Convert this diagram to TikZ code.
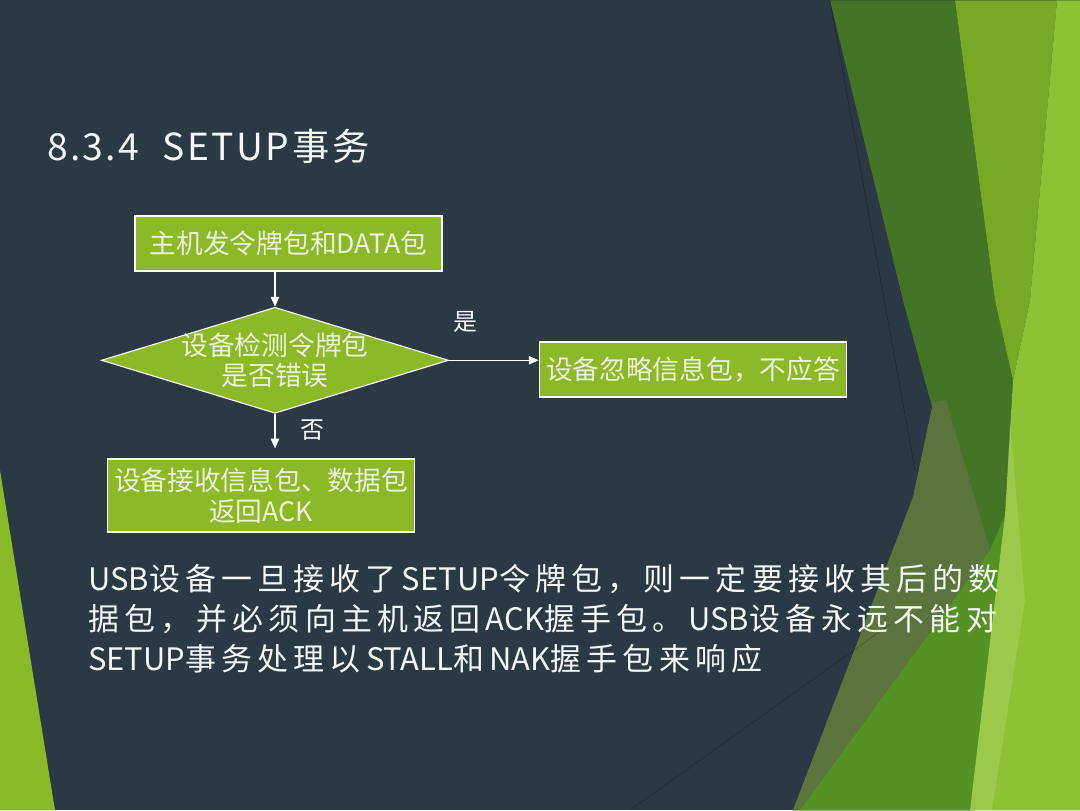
\documentclass[tikz,border=0pt]{standalone}
\usepackage{fontspec}
\setmainfont{Noto Sans CJK SC}
\newfontfamily\titlesp[LetterSpace=6]{Noto Sans CJK SC}
\usetikzlibrary{arrows.meta,shapes.geometric}
\definecolor{slate}{RGB}{43,57,69}
\definecolor{boxgreen}{RGB}{141,184,39}
\definecolor{boxtext}{RGB}{236,242,222}
\definecolor{bodytext}{RGB}{244,247,244}
\definecolor{darkband}{RGB}{70,116,38}
\definecolor{midband}{RGB}{120,168,38}
\definecolor{lightband}{RGB}{143,193,52}
\definecolor{oliveband}{RGB}{90,116,60}
\definecolor{lowband}{RGB}{84,146,38}
\definecolor{leftband}{RGB}{138,186,40}
\newcommand\zhsp[1]{\zhsploop#1\relax}
\def\zhsploop#1{\ifx#1\relax\else#1\hspace{3.7pt}\expandafter\zhsploop\fi}

\begin{document}
\begin{tikzpicture}[x=0.025cm,y=-0.025cm,
  box/.style={draw=white,line width=1.2pt,fill=boxgreen,text=boxtext,inner sep=0pt,align=center,
    font=\fontsize{19}{21.5}\selectfont,minimum width=7.675cm},
  dia/.style={diamond,draw=white,line width=0.8pt,fill=boxgreen,inner sep=0pt,
    minimum width=8.675cm,minimum height=2.65cm},
  arr/.style={draw=white,line width=0.9pt,-{Triangle[length=7pt,width=6pt]}},
  lbl/.style={text=white,inner sep=0pt,font=\fontsize{17}{19}\selectfont},
  body/.style={anchor=base west,text=bodytext,inner sep=0pt,font=\fontsize{22}{26}\selectfont},
]
  \fill[slate] (0,0) rectangle (1080,810);
  \fill[leftband] (0,470) -- (55,810) -- (0,810) -- cycle;
  \fill[darkband] (830,0) -- (955,0) -- (995,300) -- (1013,380) -- (1000,600) -- (975,810)
    -- (793,810) -- (913,497) -- (933,410) -- (903,300) -- cycle;
  \fill[oliveband] (933,402) -- (946,400) -- (990,550) -- (800,810) -- (793,810) -- (913,497) -- cycle;
  \fill[lowband] (800,810) -- (990,550) -- (1005,515) -- (970,810) -- cycle;
  \fill[midband] (955,0) -- (1057,0) -- (1030,300) -- (1013,380) -- (995,300) -- cycle;
  \fill[lightband] (1057,0) -- (1080,0) -- (1080,810) -- (970,810) -- (1005,515) -- (1013,380)
    -- (1030,300) -- cycle;
  \fill[white,opacity=.12] (1010,420) -- (1025,600) -- (992,810) -- (970,810) -- (1005,515) -- cycle;
  \draw[black,opacity=.35,line width=0.4pt] (830,0) -- (915,470);
  \draw[black,opacity=.25,line width=0.4pt] (630,810) -- (890,624);

  \node[anchor=base west,text=bodytext,inner sep=0pt,font=\fontsize{26.5}{29}\selectfont] (title)
    at (47,160) {\titlesp 8.3.4\hspace{17pt}SETUP\hspace{3pt}事务};

  \node[box,minimum height=1.375cm] (host) at (288.5,243.5) {主机发令牌包和DATA包};
  \node[dia] (check) at (275,360) {};
  \node[lbl,align=center,text=boxtext,font=\fontsize{19}{21.5}\selectfont] (checktxt) at (check) {设备检测令牌包\\是否错误};
  \node[box,minimum height=1.375cm] (ignore) at (693,369.5) {设备忽略信息包，不应答};
  \node[box,minimum height=1.825cm] (recv) at (261,495.5) {设备接收信息包、数据包\\返回ACK};

  \draw[arr] (check.north |- host.south) -- (check.north);
  \draw[arr] (check.east) -- (check.east -| ignore.west);
  \draw[arr,shorten >=0.25cm] (check.south) -- (check.south |- recv.north);
  \node[lbl] (yes) at (465,322) {是};
  \node[lbl] (no) at (312,430) {否};

  \node[body] (line1) at (88,590) {USB\zhsp{设备一旦接收了}SETUP\zhsp{令牌包，则一定要接收其后的数}};
  \node[body] (line2) at (88,630) {\zhsp{据包，并必须向主机返回}ACK\zhsp{握手包。}USB\zhsp{设备永远不能对}};
  \node[body] (line3) at (88,670) {SETUP\zhsp{事务处理以}STALL\zhsp{和}NAK\zhsp{握手包来响应}};
\end{tikzpicture}
\end{document}
